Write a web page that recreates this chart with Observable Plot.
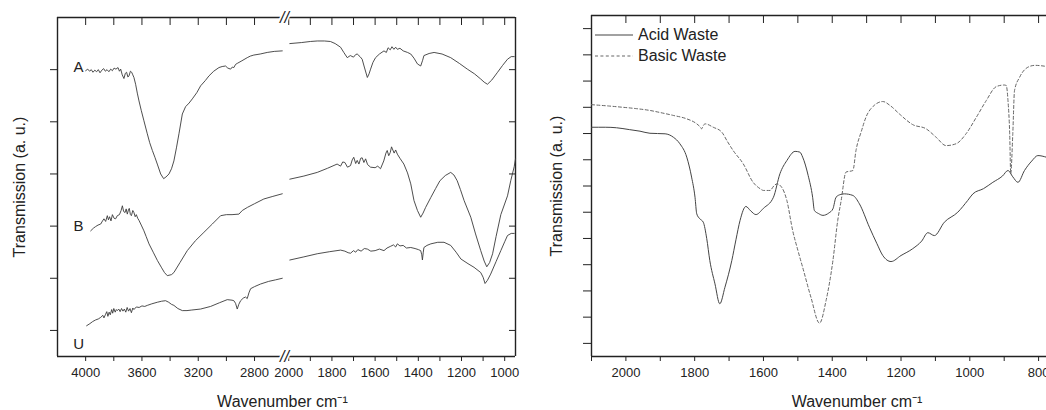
<!DOCTYPE html>
<html>
<head>
<meta charset="utf-8">
<script src="https://cdn.jsdelivr.net/npm/d3@7"></script>
<script src="https://cdn.jsdelivr.net/npm/@observablehq/plot@0.6"></script>
<style>
  html, body { margin: 0; padding: 0; background: #fff; }
  #wrap { position: relative; width: 1046px; height: 410px; overflow: hidden; font-family: "Liberation Sans", Arial, sans-serif; color: #222; background: #fff; }
  #secHigh, #secLow, #right { position: absolute; top: 0; }
  #secHigh { left: 0; }
  #secLow { left: 284px; }
  #right { left: 530px; }
  #legend { position: absolute; left: 595px; top: 24.5px; font-size: 16px; color: #222; }
  #legend .row { display: flex; align-items: center; height: 21px; }
  #legend svg { margin-right: 5px; }
</style>
</head>
<body>
<div id="wrap"><div id="secHigh"></div><div id="secLow"></div><div id="right"></div><div id="legend"></div></div>
<script>
// ---------- Left panel data: [wavenumber, transmission (a.u.)] ----------
const A_high = [[4000,5.98],[3985,6.01],[3972,5.97],[3960,6.00],[3948,5.95],[3935,5.99],[3922,5.96],[3910,6.00],[3898,5.94],[3885,5.99],[3872,6.02],[3860,5.97],[3848,6.00],[3835,5.96],[3822,6.01],[3810,5.98],[3798,6.03],[3785,6.01],[3770,6.04],[3760,5.97],[3751,6.01],[3740,5.90],[3728,5.83],[3718,5.93],[3709,5.95],[3700,5.86],[3692,5.88],[3682,5.97],[3673,5.95],[3665,5.90],[3657,5.85],[3645,5.72],[3633,5.55],[3621,5.40],[3605,5.22],[3586,5.02],[3562,4.77],[3545,4.60],[3526,4.45],[3508,4.32],[3491,4.19],[3467,4.00],[3446,3.91],[3430,3.94],[3408,4.00],[3390,4.10],[3373,4.25],[3355,4.50],[3337,4.77],[3313,5.15],[3290,5.29],[3265,5.36],[3242,5.44],[3210,5.56],[3183,5.69],[3150,5.79],[3124,5.88],[3090,5.97],[3053,6.04],[3030,6.06],[3006,6.07],[2990,6.03],[2970,6.01],[2958,6.05],[2947,6.04],[2935,6.10],[2923,6.12],[2890,6.17],[2852,6.23],[2830,6.26],[2805,6.28],[2760,6.30],[2710,6.33],[2660,6.35],[2603,6.36]];
const A_low = [[1995,6.50],[1940,6.52],[1900,6.54],[1868,6.55],[1835,6.55],[1807,6.54],[1785,6.50],[1760,6.43],[1745,6.33],[1729,6.23],[1715,6.27],[1700,6.24],[1690,6.29],[1683,6.30],[1670,6.25],[1660,6.20],[1650,6.05],[1636,5.85],[1628,5.92],[1621,6.01],[1610,6.14],[1598,6.23],[1580,6.30],[1559,6.36],[1548,6.33],[1540,6.42],[1530,6.38],[1522,6.44],[1513,6.39],[1505,6.43],[1497,6.39],[1485,6.41],[1470,6.36],[1450,6.33],[1435,6.30],[1420,6.22],[1404,6.11],[1389,6.07],[1380,6.18],[1374,6.27],[1350,6.31],[1327,6.33],[1290,6.30],[1250,6.23],[1210,6.12],[1173,6.01],[1140,5.92],[1111,5.82],[1095,5.76],[1080,5.72],[1060,5.80],[1033,5.95],[1010,6.08],[987,6.20],[970,6.25],[956,6.25]];
const B_high = [[3964,2.91],[3945,2.96],[3930,2.99],[3912,3.02],[3893,3.04],[3880,3.10],[3870,3.14],[3858,3.09],[3846,3.20],[3838,3.12],[3830,3.18],[3820,3.10],[3810,3.22],[3798,3.15],[3787,3.14],[3775,3.20],[3760,3.22],[3748,3.30],[3739,3.39],[3730,3.28],[3720,3.26],[3712,3.33],[3704,3.23],[3696,3.31],[3690,3.34],[3682,3.22],[3675,3.20],[3665,3.30],[3657,3.26],[3648,3.18],[3640,3.22],[3630,3.15],[3621,3.11],[3605,3.02],[3586,2.91],[3570,2.80],[3550,2.66],[3520,2.50],[3490,2.34],[3460,2.20],[3440,2.11],[3420,2.05],[3390,2.07],[3373,2.11],[3330,2.30],[3278,2.53],[3220,2.72],[3160,2.88],[3100,3.04],[3041,3.20],[3000,3.22],[2960,3.22],[2911,3.23],[2887,3.30],[2850,3.36],[2800,3.43],[2734,3.52],[2670,3.57],[2603,3.62]];
const B_low = [[1995,3.90],[1930,3.96],[1868,4.03],[1820,4.11],[1776,4.19],[1760,4.15],[1750,4.23],[1740,4.22],[1728,4.13],[1714,4.16],[1706,4.27],[1699,4.32],[1690,4.20],[1683,4.26],[1675,4.19],[1667,4.30],[1660,4.31],[1652,4.22],[1644,4.29],[1635,4.18],[1621,4.13],[1600,4.12],[1588,4.15],[1575,4.10],[1560,4.25],[1550,4.40],[1544,4.45],[1537,4.35],[1530,4.41],[1524,4.52],[1520,4.48],[1512,4.40],[1505,4.46],[1497,4.38],[1485,4.30],[1467,4.19],[1450,4.02],[1435,3.81],[1420,3.49],[1404,3.30],[1389,3.17],[1378,3.25],[1366,3.36],[1342,3.55],[1320,3.72],[1300,3.87],[1275,3.97],[1250,4.03],[1235,3.98],[1220,3.87],[1205,3.70],[1188,3.49],[1157,3.17],[1135,2.85],[1111,2.53],[1095,2.33],[1083,2.22],[1070,2.30],[1056,2.47],[1040,2.80],[1018,3.22],[987,3.58],[972,3.87],[956,4.14],[950,4.29]];
const U_high = [[3993,1.09],[3970,1.13],[3950,1.17],[3930,1.20],[3910,1.22],[3893,1.25],[3878,1.29],[3870,1.24],[3860,1.30],[3850,1.36],[3842,1.27],[3833,1.35],[3825,1.30],[3815,1.40],[3808,1.33],[3800,1.42],[3790,1.35],[3782,1.40],[3775,1.38],[3765,1.41],[3755,1.36],[3745,1.42],[3735,1.37],[3725,1.41],[3715,1.35],[3705,1.44],[3695,1.37],[3685,1.42],[3675,1.34],[3665,1.43],[3657,1.40],[3640,1.45],[3620,1.44],[3600,1.47],[3580,1.46],[3562,1.48],[3530,1.51],[3491,1.54],[3460,1.56],[3432,1.57],[3410,1.54],[3390,1.50],[3373,1.48],[3345,1.42],[3313,1.38],[3280,1.38],[3250,1.39],[3183,1.41],[3112,1.46],[3050,1.53],[2994,1.59],[2960,1.58],[2947,1.57],[2935,1.52],[2923,1.41],[2912,1.50],[2899,1.57],[2880,1.62],[2864,1.64],[2852,1.61],[2840,1.72],[2828,1.80],[2800,1.84],[2757,1.89],[2700,1.94],[2650,1.97],[2603,2.00]];
const U_low = [[1995,2.35],[1930,2.41],[1868,2.47],[1810,2.51],[1760,2.54],[1740,2.52],[1725,2.49],[1714,2.48],[1700,2.53],[1690,2.50],[1680,2.55],[1665,2.52],[1650,2.57],[1636,2.56],[1620,2.52],[1600,2.53],[1580,2.56],[1559,2.53],[1545,2.58],[1530,2.61],[1515,2.64],[1505,2.60],[1497,2.66],[1485,2.62],[1470,2.63],[1455,2.58],[1435,2.59],[1415,2.57],[1400,2.55],[1389,2.53],[1384,2.45],[1381,2.35],[1377,2.50],[1374,2.59],[1360,2.63],[1342,2.66],[1310,2.69],[1281,2.69],[1250,2.63],[1225,2.50],[1203,2.37],[1170,2.28],[1142,2.21],[1111,2.11],[1100,2.02],[1091,1.90],[1080,1.96],[1065,2.08],[1040,2.32],[1018,2.53],[1000,2.70],[987,2.82],[970,2.86],[956,2.86]];

const sampleNames = ["A", "B", "U"];
const sampleLabelWn = [4050, 4050, 4050];
const sampleLabelT = [6.04, 2.99, 0.73];

// broken axis: high-wavenumber part and low-wavenumber part
const highDomain = [4200, 2595];
const lowDomain = [2015, 950];
const highMajorTicks = [4000, 3600, 3200, 2800];
const highMinorTicks = [3800, 3400, 3000];
const lowMajorTicks = [2000, 1800, 1600, 1400, 1200, 1000];
const lowMinorTicks = [1900, 1700, 1500, 1300, 1100];
const leftYDomain = [0.5, 7];
const leftYTicks = [1, 2, 3, 4, 5, 6];

// ---------- Right panel data ----------
const acidWaste = [[2100,9.24],[2060,9.24],[2027,9.22],[1990,9.15],[1959,9.09],[1930,9.01],[1886,8.99],[1862,8.86],[1843,8.61],[1823,8.10],[1809,7.34],[1799,6.57],[1794,5.94],[1785,5.75],[1775,5.62],[1765,5.00],[1756,4.16],[1741,3.27],[1727,2.51],[1712,3.14],[1692,4.16],[1680,4.95],[1668,5.69],[1651,6.22],[1637,6.05],[1622,5.91],[1600,6.15],[1571,6.57],[1552,7.47],[1532,7.97],[1508,8.32],[1494,8.29],[1486,8.10],[1470,7.40],[1457,6.57],[1452,6.07],[1440,5.95],[1427,5.88],[1410,5.97],[1398,6.13],[1389,6.57],[1375,6.68],[1365,6.70],[1340,6.64],[1321,6.32],[1292,5.43],[1270,4.80],[1253,4.35],[1229,4.12],[1200,4.35],[1166,4.61],[1140,4.90],[1122,5.22],[1103,5.11],[1074,5.62],[1035,6.00],[1006,6.45],[991,6.70],[960,6.90],[933,7.14],[905,7.38],[889,7.59],[875,7.35],[860,7.14],[841,7.59],[820,7.95],[802,8.16],[778,8.10]];
const basicWaste = [[2100,10.10],[2050,10.05],[2008,10.00],[1970,9.95],[1930,9.88],[1900,9.80],[1862,9.69],[1823,9.56],[1794,9.37],[1784,9.25],[1780,9.18],[1775,9.30],[1770,9.37],[1746,9.24],[1721,9.05],[1705,8.70],[1688,8.35],[1659,7.85],[1630,7.14],[1610,6.90],[1600,6.83],[1581,6.83],[1570,7.00],[1561,7.08],[1547,6.95],[1532,6.45],[1515,5.30],[1500,4.55],[1486,3.90],[1462,2.76],[1437,1.77],[1418,2.63],[1398,4.16],[1384,5.69],[1374,6.45],[1360,7.53],[1340,7.59],[1331,8.35],[1315,9.10],[1302,9.62],[1280,10.05],[1253,10.22],[1230,10.05],[1205,9.75],[1166,9.34],[1127,9.18],[1098,8.86],[1069,8.54],[1040,8.61],[1011,8.99],[981,9.62],[952,10.26],[923,10.79],[900,10.85],[894,10.83],[889,10.26],[884,8.99],[881,7.47],[875,8.99],[870,10.64],[855,11.15],[826,11.56],[810,11.60],[797,11.59],[778,11.56]];
const seriesNames = ["Acid Waste", "Basic Waste"];
const rightDomain = [2100, 777];
const rightMajorTicks = [2000, 1800, 1600, 1400, 1200, 1000, 800];
const rightMinorTicks = [2100, 1900, 1700, 1500, 1300, 1100, 900];
const rightYDomain = [0.5, 13.5];
const rightYTicks = [1,2,3,4,5,6,7,8,9,10,11,12,13];

const yTitle = "Transmission (a. u.)";
const xTitle = "Wavenumber cm\u207B\u00B9";

// ---------- styles ----------
const FONT = "'Liberation Sans', Arial, sans-serif";
const INK = "#222";
const LINE = "#3a3a3a";
const seriesDash = [null, "3,2.4"];
const seriesColor = ["#444", "#666"];
const blank = () => "";
const baseStyle = {fontFamily: FONT, fontSize: "13px", color: INK, background: "none", overflow: "visible"};

const toRows = (name, arr) => arr.map(([wn, t]) => ({name, wn, t}));
const highRows = [...toRows("A", A_high), ...toRows("B", B_high), ...toRows("U", U_high)];
const lowRows = [...toRows("A", A_low), ...toRows("B", B_low), ...toRows("U", U_low)];
const labelRows = sampleNames.map((n, i) => ({n, wn: sampleLabelWn[i], t: sampleLabelT[i]}));

// high-wavenumber section (left part of the broken axis)
const secHigh = Plot.plot({
  width: 284, height: 410,
  marginLeft: 57, marginRight: 1.1, marginTop: 17, marginBottom: 54,
  style: baseStyle,
  x: {domain: highDomain, axis: null, label: null},
  y: {domain: leftYDomain, axis: null, label: null},
  marks: [
    Plot.axisX({anchor: "bottom", ticks: highMajorTicks, tickSize: 5, tickPadding: 6, tickFormat: d => String(d), fontSize: 13, label: null, stroke: INK}),
    Plot.axisX({anchor: "bottom", ticks: highMinorTicks, tickSize: 5, tickFormat: blank, label: null, stroke: INK}),
    Plot.axisX({anchor: "top", ticks: [...highMajorTicks, ...highMinorTicks], tickSize: -7, tickFormat: blank, label: null, stroke: INK}),
    Plot.axisY({anchor: "left", ticks: leftYTicks, tickSize: 7, tickFormat: blank, label: null, stroke: INK}),
    Plot.ruleX([highDomain[0]], {stroke: INK, strokeWidth: 1.4}),
    Plot.ruleY(leftYDomain, {stroke: INK, strokeWidth: 1.4}),
    Plot.line(highRows, {x: "wn", y: "t", z: "name", stroke: LINE, strokeWidth: 0.9}),
    Plot.text(labelRows, {x: "wn", y: "t", text: "n", fontSize: 15, fill: INK}),
    Plot.text([yTitle], {frameAnchor: "left", dx: -38, rotate: -90, fontSize: 16, fill: INK, textAnchor: "middle", lineAnchor: "middle"}),
    Plot.text([xTitle], {frameAnchor: "bottom", dx: 112, dy: 45, fontSize: 16, fill: INK, textAnchor: "middle", lineAnchor: "middle"})
  ]
});
document.getElementById("secHigh").append(secHigh);

// low-wavenumber section (right part of the broken axis)
const breakMark = (anchor) => Plot.text(["//"], {
  frameAnchor: anchor, dx: -1, text: d => d, fontSize: 16, fontStyle: "italic",
  fill: INK, stroke: "white", strokeWidth: 3.5, lineAnchor: "middle", textAnchor: "middle"
});
const secLow = Plot.plot({
  width: 246, height: 410,
  marginLeft: 1, marginRight: 15, marginTop: 17, marginBottom: 54,
  style: baseStyle,
  x: {domain: lowDomain, axis: null, label: null},
  y: {domain: leftYDomain, axis: null, label: null},
  marks: [
    Plot.axisX({anchor: "bottom", ticks: lowMajorTicks, tickSize: 5, tickPadding: 6, tickFormat: d => String(d), fontSize: 13, label: null, stroke: INK}),
    Plot.axisX({anchor: "bottom", ticks: lowMinorTicks, tickSize: 5, tickFormat: blank, label: null, stroke: INK}),
    Plot.axisX({anchor: "top", ticks: [...lowMajorTicks, ...lowMinorTicks], tickSize: -7, tickFormat: blank, label: null, stroke: INK}),
    Plot.axisY({anchor: "right", ticks: leftYTicks, tickSize: -7, tickFormat: blank, label: null, stroke: INK}),
    Plot.ruleX([lowDomain[1]], {stroke: INK, strokeWidth: 1.4}),
    Plot.ruleY(leftYDomain, {stroke: INK, strokeWidth: 1.4}),
    Plot.line(lowRows, {x: "wn", y: "t", z: "name", stroke: LINE, strokeWidth: 0.9}),
    breakMark("top-left"),
    breakMark("bottom-left")
  ]
});
document.getElementById("secLow").append(secLow);

// right panel
const rightRows = [...toRows(seriesNames[0], acidWaste), ...toRows(seriesNames[1], basicWaste)];
const right = Plot.plot({
  width: 516, height: 410,
  marginLeft: 61, marginRight: 0, marginTop: 15, marginBottom: 54,
  style: baseStyle,
  x: {domain: rightDomain, axis: null, label: null},
  y: {domain: rightYDomain, axis: null, label: null},
  marks: [
    Plot.axisX({anchor: "bottom", ticks: rightMajorTicks, tickSize: 5, tickPadding: 6, tickFormat: d => String(d), fontSize: 13, label: null, stroke: INK}),
    Plot.axisX({anchor: "bottom", ticks: rightMinorTicks, tickSize: 5, tickFormat: blank, label: null, stroke: INK}),
    Plot.axisX({anchor: "top", ticks: [...rightMajorTicks, ...rightMinorTicks], tickSize: -7, tickFormat: blank, label: null, stroke: INK}),
    Plot.axisY({anchor: "left", ticks: rightYTicks, tickSize: 8, tickFormat: blank, label: null, stroke: INK}),
    Plot.ruleX([rightDomain[0]], {stroke: INK, strokeWidth: 1.4}),
    Plot.ruleY(rightYDomain, {stroke: INK, strokeWidth: 1.4}),
    ...seriesNames.map((s, i) => Plot.line(rightRows.filter(d => d.name === s), {
      x: "wn", y: "t", stroke: seriesColor[i], strokeWidth: 1, strokeDasharray: seriesDash[i], curve: "monotone-x"
    })),
    Plot.text([yTitle], {frameAnchor: "left", dx: -35, rotate: -90, fontSize: 16, fill: INK, textAnchor: "middle", lineAnchor: "middle"}),
    Plot.text([xTitle], {frameAnchor: "bottom", dx: 38, dy: 45, fontSize: 16, fill: INK, textAnchor: "middle", lineAnchor: "middle"})
  ]
});
document.getElementById("right").append(right);

// legend
const lg = d3.select("#legend");
seriesNames.forEach((s, i) => {
  const row = lg.append("div").attr("class", "row");
  const svg = row.append("svg").attr("width", 38).attr("height", 10);
  svg.append("line").attr("x1", 0).attr("x2", 38).attr("y1", 5).attr("y2", 5)
    .attr("stroke", seriesColor[i]).attr("stroke-width", 1.1)
    .attr("stroke-dasharray", seriesDash[i]);
  row.append("span").text(s);
});
</script>
</body>
</html>
